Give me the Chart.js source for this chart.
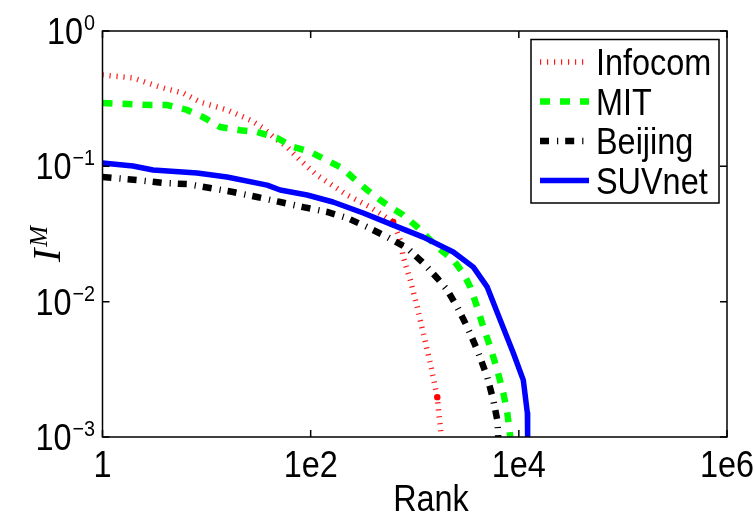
<!DOCTYPE html>
<html>
<head>
<meta charset="utf-8">
<script src="https://cdn.jsdelivr.net/npm/chart.js@4.4.0/dist/chart.umd.min.js"></script>
<style>
  html, body { margin: 0; padding: 0; background: #ffffff; }
  #wrap { width: 756px; height: 521px; position: relative; }
</style>
</head>
<body>
<div id="wrap"><canvas id="chart" width="756" height="521"></canvas></div>
<script>
// Rank vs. I^M for four mobility traces (log-log)
const seriesNames = ['Infocom', 'MIT', 'Beijing', 'SUVnet'];

const rankInfocom  = [1, 1.96, 3.57, 5.94, 8.66, 15.7, 26.2, 34.9, 43.7, 59.4, 79.2, 115, 224, 373, 621, 725, 775, 905, 1057, 1207, 1409, 1646, 1798];
const valueInfocom = [0.473, 0.45, 0.385, 0.348, 0.299, 0.261, 0.22, 0.192, 0.165, 0.139, 0.111, 0.086, 0.0614, 0.050, 0.0388, 0.0285, 0.0214, 0.0145, 0.0091, 0.00586, 0.00352, 0.00197, 0.001];
const markedInfocom = [14, 21];   // indices drawn with a dot marker

const rankMIT  = [1, 2.86, 4.17, 6.49, 9.25, 13.5, 21, 30.6, 47.6, 67.9, 98.9, 201, 256, 349, 466, 581, 775, 1057, 1646, 2344, 2926, 3418, 3981, 4560, 5321, 6209, 7097, 7750, 8280];
const valueMIT = [0.294, 0.284, 0.284, 0.261, 0.231, 0.195, 0.185, 0.179, 0.162, 0.139, 0.128, 0.097, 0.082, 0.0669, 0.0564, 0.050, 0.0437, 0.0356, 0.0253, 0.0203, 0.0163, 0.0128, 0.0091, 0.00649, 0.00461, 0.00312, 0.00211, 0.0015, 0.001];

const rankBeijing  = [1, 2.15, 3.82, 6.49, 10.8, 18, 30.6, 50.9, 84.7, 144, 224, 349, 544, 847, 1207, 1646, 2054, 2564, 3199, 3990, 4977, 5689, 6209, 6339];
const valueBeijing = [0.0834, 0.0792, 0.0753, 0.074, 0.0692, 0.0646, 0.0593, 0.0545, 0.050, 0.046, 0.0415, 0.0356, 0.030, 0.0249, 0.0193, 0.0149, 0.0122, 0.0091, 0.00649, 0.00439, 0.00277, 0.00187, 0.00133, 0.001];

const rankSUVnet  = [1, 1.96, 3.06, 8.1, 15.7, 38.2, 50.9, 92.5, 164, 320, 621, 1207, 2344, 3656, 4977, 6637, 8851, 11040, 12080, 12150];
const valueSUVnet = [0.106, 0.1005, 0.0939, 0.0892, 0.0834, 0.0727, 0.0668, 0.0614, 0.0545, 0.0452, 0.0368, 0.030, 0.0233, 0.018, 0.0128, 0.0073, 0.00417, 0.00263, 0.0015, 0.001];

const xTickValues = [1, 1e2, 1e4, 1e6];
const xTickLabels = ['1', '1e2', '1e4', '1e6'];
const yTickValues = [1, 1e-1, 1e-2, 1e-3];
const yTickBase = '10';
const yTickExponents = ['0', '\u22121', '\u22122', '\u22123'];
const xTitle = 'Rank';
const yTitleBase = 'I';
const yTitleSup = 'M';

const SANS = '"Liberation Sans", Arial, Helvetica, sans-serif';
const SERIF = '"Liberation Serif", "Times New Roman", serif';
const SQUEEZE = 0.9;

function toPoints(xs, ys) {
  return xs.map((x, i) => ({ x: x, y: ys[i] }));
}

const styles = [
  { color: '#ff1a1a', width: 5.5, dash: [1.2, 5.8] },
  { color: '#00ff00', width: 6.5, dash: [10, 10] },
  { color: '#000000', width: 6.5, dash: [9, 8, 1.2, 7] },
  { color: '#0000ff', width: 5.5, dash: [] }
];

function makeDataset(i, xs, ys, extra) {
  const s = styles[i];
  return Object.assign({
    label: seriesNames[i],
    data: toPoints(xs, ys),
    borderColor: s.color,
    backgroundColor: s.color,
    borderWidth: s.width,
    borderDash: s.dash,
    borderCapStyle: 'butt',
    borderJoinStyle: 'round',
    pointRadius: 0,
    tension: 0,
    fill: false,
    order: 4 - i
  }, extra || {});
}

function textW(ctx, str, size, family, style) {
  ctx.save();
  ctx.font = `${style || ''} ${size}px ${family || SANS}`;
  const w = ctx.measureText(str).width * SQUEEZE;
  ctx.restore();
  return w;
}

function squeezedText(ctx, str, x, y, size, align, family, style) {
  const w = textW(ctx, str, size, family, style);
  let x0 = x;
  if (align === 'center') x0 = x - w / 2;
  else if (align === 'right') x0 = x - w;
  ctx.save();
  ctx.font = `${style || ''} ${size}px ${family || SANS}`;
  ctx.textAlign = 'left';
  ctx.textBaseline = 'alphabetic';
  ctx.fillStyle = '#000000';
  ctx.translate(x0, y);
  ctx.scale(SQUEEZE, 1);
  ctx.fillText(str, 0, 0);
  ctx.restore();
  return w;
}

// Frame, inward ticks, labels and the boxed legend
const decorations = {
  id: 'decorations',
  afterDraw(chart) {
    const ctx = chart.ctx;
    const a = chart.chartArea;
    const xs = chart.scales.x;
    const ys = chart.scales.y;
    const tick = 7;

    ctx.save();
    ctx.strokeStyle = '#000000';
    ctx.lineWidth = 1.5;
    ctx.setLineDash([]);
    ctx.beginPath();
    xTickValues.forEach(v => {
      const p = xs.getPixelForValue(v);
      ctx.moveTo(p, a.bottom); ctx.lineTo(p, a.bottom - tick);
      ctx.moveTo(p, a.top); ctx.lineTo(p, a.top + tick);
    });
    yTickValues.forEach(v => {
      const p = ys.getPixelForValue(v);
      ctx.moveTo(a.left, p); ctx.lineTo(a.left + tick, p);
      ctx.moveTo(a.right, p); ctx.lineTo(a.right - tick, p);
    });
    ctx.stroke();
    ctx.strokeRect(a.left, a.top, a.right - a.left, a.bottom - a.top);
    ctx.restore();

    // x tick labels
    xTickValues.forEach((v, i) => {
      squeezedText(ctx, xTickLabels[i], xs.getPixelForValue(v), 477, 36, 'center');
    });
    squeezedText(ctx, xTitle, 431, 511, 36, 'center');

    // y tick labels with exponent
    yTickValues.forEach((v, i) => {
      const p = ys.getPixelForValue(v);
      const right = 95;
      const supW = textW(ctx, yTickExponents[i], 22);
      const baseW = textW(ctx, yTickBase, 36);
      squeezedText(ctx, yTickBase, right - supW - baseW - 1, p + 13, 36, 'left');
      squeezedText(ctx, yTickExponents[i], right - supW, p - 1, 22, 'left');
    });

    // y axis title, rotated
    ctx.save();
    ctx.translate(60, 262);
    ctx.rotate(-Math.PI / 2);
    ctx.fillStyle = '#000000';
    ctx.textBaseline = 'alphabetic';
    ctx.font = `italic 40px ${SERIF}`;
    ctx.fillText(yTitleBase, 0, 0);
    const iw = ctx.measureText(yTitleBase).width;
    ctx.font = `italic 25px ${SERIF}`;
    ctx.fillText(yTitleSup, iw + 2, -13);
    ctx.restore();

    // legend
    const lx = 531, ly = 39.5, lw = 188, lh = 163.5;
    ctx.save();
    ctx.fillStyle = '#ffffff';
    ctx.fillRect(lx, ly, lw, lh);
    ctx.strokeStyle = '#000000';
    ctx.lineWidth = 1.5;
    ctx.strokeRect(lx, ly, lw, lh);
    ctx.restore();
    chart.data.datasets.forEach((ds, i) => {
      const rowY = 62 + i * 39.5;
      ctx.save();
      ctx.strokeStyle = ds.borderColor;
      ctx.lineWidth = ds.borderWidth;
      ctx.setLineDash(ds.borderDash);
      ctx.lineCap = 'butt';
      ctx.beginPath();
      ctx.moveTo(540, rowY);
      ctx.lineTo(589, rowY);
      ctx.stroke();
      ctx.restore();
      squeezedText(ctx, ds.label, 596, rowY + 13, 36, 'left');
    });
  }
};

const chart = new Chart(document.getElementById('chart'), {
  type: 'line',
  data: {
    datasets: [
      makeDataset(0, rankInfocom, valueInfocom, {
        pointRadius: ctx => markedInfocom.indexOf(ctx.dataIndex) >= 0 ? 3.2 : 0,
        pointBorderWidth: 0,
        pointBackgroundColor: '#ff0000'
      }),
      makeDataset(1, rankMIT, valueMIT),
      makeDataset(2, rankBeijing, valueBeijing),
      makeDataset(3, rankSUVnet, valueSUVnet)
    ]
  },
  options: {
    responsive: false,
    animation: false,
    events: [],
    layout: { padding: { top: 31, right: 29, left: 0, bottom: 0 } },
    plugins: { legend: { display: false }, tooltip: { enabled: false } },
    scales: {
      x: {
        type: 'logarithmic', min: 1, max: 1e6,
        ticks: { display: false },
        grid: { display: false },
        border: { display: false },
        afterFit(scale) { scale.height = 84; }
      },
      y: {
        type: 'logarithmic', min: 1e-3, max: 1,
        ticks: { display: false },
        grid: { display: false },
        border: { display: false },
        afterFit(scale) { scale.width = 102.5; }
      }
    }
  },
  plugins: [decorations]
});
</script>
</body>
</html>
